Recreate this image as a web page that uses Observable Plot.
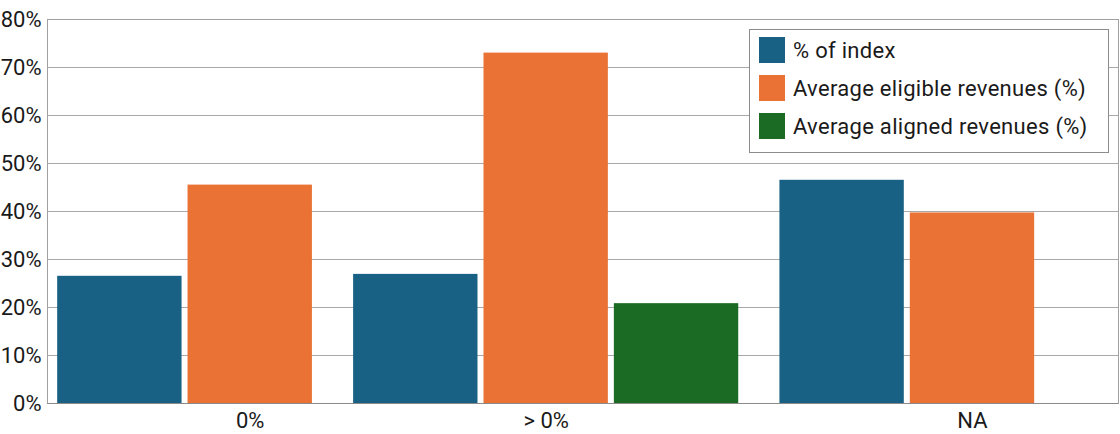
<!DOCTYPE html>
<html>
<head>
<meta charset="utf-8">
<script src="https://cdn.jsdelivr.net/npm/d3@7"></script>
<script src="https://cdn.jsdelivr.net/npm/@observablehq/plot@0.6"></script>
<style>
  html, body { margin: 0; padding: 0; background: #fff; }
  #wrap { position: relative; width: 1120px; height: 434px; font-family: Roboto, "Open Sans", sans-serif; }
  #legend { position: absolute; left: 749px; top: 29px; width: 358px; height: 122px; border: 1px solid #8c8c8c; background: #fff; box-sizing: content-box; }
  .row { position: absolute; left: 9px; height: 26px; display: flex; align-items: center; }
  .sw { width: 26px; height: 26px; margin-right: 8px; flex: none; }
  .lab { font-size: 22px; color: #1a1a1a; white-space: nowrap; letter-spacing: 0.3px; }
</style>
</head>
<body>
<div id="wrap"></div>
<script>
// ---- data ----
const groups = ["0%", "> 0%", "NA"];
const seriesNames = ["% of index", "Average eligible revenues (%)", "Average aligned revenues (%)"];
const indexPct = [26.5, 26.9, 46.5];
const eligiblePct = [45.5, 73.0, 39.7];
const alignedPct = [null, 20.8, null];
const seriesColors = ["#186185", "#e97234", "#1c6b24"];
const yTicks = [0, 10, 20, 30, 40, 50, 60, 70, 80];

// ---- layout (dodge within each group, only bars that exist) ----
const seriesValues = [indexPct, eligiblePct, alignedPct];
const groupGap = 0.27;
const rows = [];
const labelRows = [];
let start = 0;
groups.forEach((g, gi) => {
  let k = 0;
  seriesNames.forEach((s, si) => {
    const v = seriesValues[si][gi];
    if (v == null) return;
    rows.push({group: g, series: s, value: v, x1: start + k, x2: start + k + 1});
    k++;
  });
  labelRows.push({group: g, x: start + 1.5});
  start += k + groupGap;
});
const lastStart = start - groupGap - 2;
const xDomain = [-0.055, lastStart + 2.62];

const chart = Plot.plot({
  width: 1120,
  height: 434,
  marginTop: 19,
  marginBottom: 31,
  marginLeft: 47,
  marginRight: 2,
  style: {fontFamily: "Roboto, 'Open Sans', sans-serif", fontSize: "22px", color: "#1a1a1a", background: "#fff"},
  x: {domain: xDomain, axis: null},
  y: {domain: [0, 80], ticks: yTicks, tickFormat: d => d + "%", tickSize: 0, tickPadding: 6, label: null},
  color: {domain: seriesNames, range: seriesColors},
  marks: [
    Plot.ruleY(yTicks, {stroke: "#a8a8a8", strokeWidth: 1}),
    Plot.frame({stroke: "#a0a0a0"}),
    Plot.rectY(rows, {x1: "x1", x2: "x2", y: "value", fill: "series", insetLeft: 3, insetRight: 3}),
    Plot.ruleY([0], {stroke: "#8a8a8a"}),
    Plot.text(labelRows, {x: "x", y: () => 0, text: "group", dy: 17, lineAnchor: "middle", fill: "#1a1a1a", fontSize: 22})
  ]
});

const wrap = document.getElementById("wrap");
wrap.appendChild(chart);

// legend overlay
const legend = document.createElement("div");
legend.id = "legend";
seriesNames.forEach((s, i) => {
  const row = document.createElement("div");
  row.className = "row";
  row.style.top = (7 + i * 38) + "px";
  const sw = document.createElement("div");
  sw.className = "sw";
  sw.style.background = seriesColors[i];
  const lab = document.createElement("span");
  lab.className = "lab";
  lab.textContent = s;
  row.appendChild(sw);
  row.appendChild(lab);
  legend.appendChild(row);
});
wrap.appendChild(legend);
</script>
</body>
</html>
